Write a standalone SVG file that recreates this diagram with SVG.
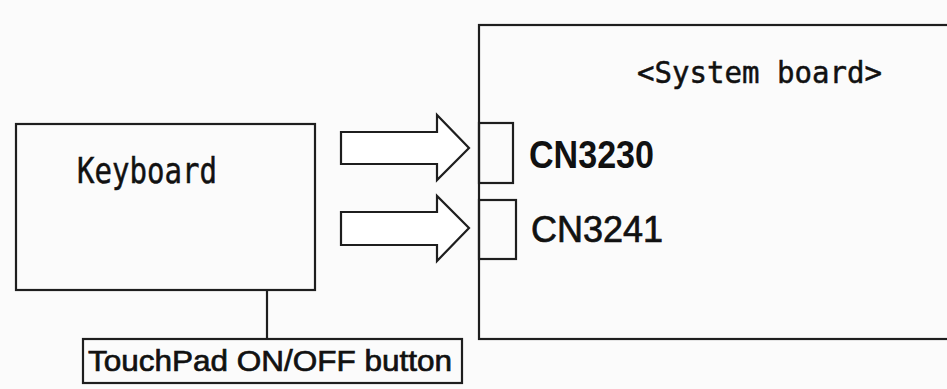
<svg xmlns="http://www.w3.org/2000/svg" width="947" height="389" viewBox="0 0 947 389">
<style>
.box{fill:none;stroke:#1e1e1e;stroke-width:2.2}
.arrow{fill:#fff;stroke:#1e1e1e;stroke-width:2.2;stroke-linejoin:miter}
.line{stroke:#1e1e1e;stroke-width:2.2;fill:none}
.mono{font-family:"DejaVu Sans Mono","Liberation Mono",monospace;fill:#111;stroke:#111;stroke-width:0.5}
.sans{font-family:"Liberation Sans",Arial,sans-serif;fill:#111}
.thick{stroke:#111;stroke-width:0.7}
</style>
<rect x="0" y="0" width="947" height="389" fill="#fbfbfb"/>
<g id="system-board">
<rect class="box" x="479" y="25" width="500" height="314" fill="#fdfdfd"/>
<text class="mono" x="637" y="83" font-size="30" textLength="245" lengthAdjust="spacingAndGlyphs">&lt;System board&gt;</text>
</g>
<g id="cn3230">
<rect class="box" x="479" y="123" width="34" height="60"/>
<text class="sans" x="529" y="168" font-size="38" font-weight="bold" textLength="125" lengthAdjust="spacingAndGlyphs">CN3230</text>
</g>
<g id="cn3241">
<rect class="box" x="479" y="200" width="37" height="59"/>
<text class="sans thick" x="531" y="242" font-size="37" textLength="132" lengthAdjust="spacingAndGlyphs">CN3241</text>
</g>
<g id="keyboard">
<rect class="box" x="16" y="124" width="299" height="166" fill="#fdfdfd"/>
<text class="mono" x="77" y="183" font-size="35" textLength="140" lengthAdjust="spacingAndGlyphs">Keyboard</text>
</g>
<g id="touchpad-button">
<rect class="box" x="83" y="339" width="379" height="44" fill="#fdfdfd"/>
<text class="sans thick" x="88" y="371" font-size="30" textLength="364" lengthAdjust="spacingAndGlyphs">TouchPad ON/OFF button</text>
</g>
<g id="connectors">
<polygon class="arrow" points="341,132 437,132 437,115 469,148 437,180 437,164 341,164"/>
<polygon class="arrow" points="341,212 437,212 437,196 469,228 437,261 437,245 341,245"/>
<line class="line" x1="267" y1="290" x2="267" y2="339"/>
</g>
</svg>
